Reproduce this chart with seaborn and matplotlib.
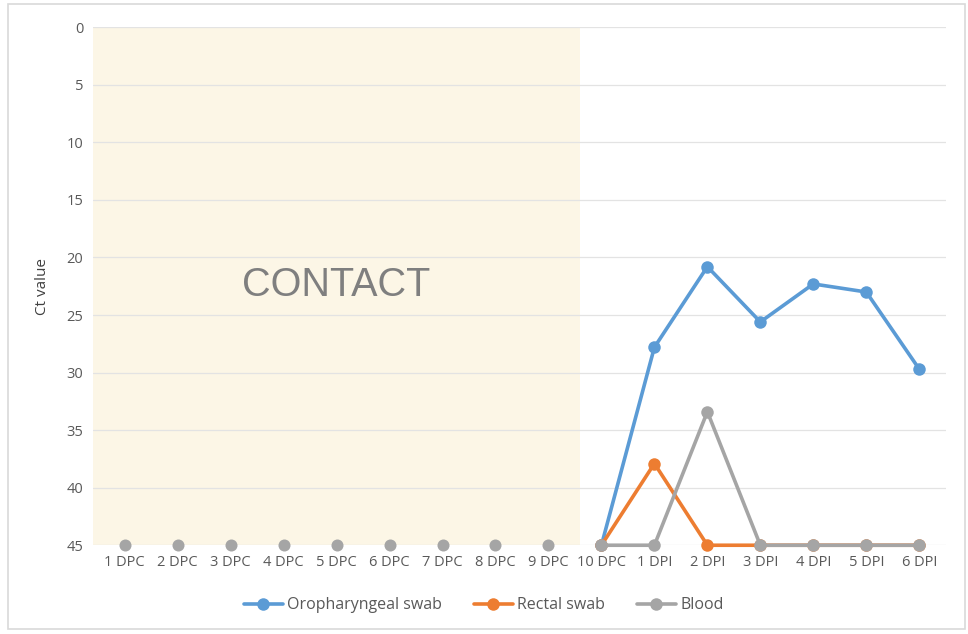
import matplotlib
matplotlib.use("Agg")
import matplotlib.pyplot as plt
from matplotlib.patches import Rectangle
from matplotlib.lines import Line2D
import seaborn as sns
import pandas as pd

# --- data ---
days = ["1 DPC", "2 DPC", "3 DPC", "4 DPC", "5 DPC", "6 DPC", "7 DPC", "8 DPC",
        "9 DPC", "10 DPC", "1 DPI", "2 DPI", "3 DPI", "4 DPI", "5 DPI", "6 DPI"]
oro_swab = [45, 27.8, 20.8, 25.6, 22.3, 23.0, 29.7]      # from 10 DPC on
rectal_swab = [45, 37.9, 45, 45, 45, 45, 45]
blood = [45, 45, 33.4, 45, 45, 45, 45]
contact_blood = [45] * 9                                 # 1-9 DPC

series_names = ["Oropharyngeal swab", "Rectal swab", "Blood"]
colors = ["#5B9BD5", "#ED7D31", "#A5A5A5"]

sns.set_theme(style="white")
plt.rcParams["font.family"] = ["Open Sans", "DejaVu Sans"]
text_col = "#595959"

fig = plt.figure(figsize=(9.68, 6.34), dpi=100)
ax = fig.add_axes([0.096, 0.140, 0.881, 0.817])

x_all = list(range(len(days)))
x_post = x_all[9:]

# contact period shading
ax.axvspan(-0.6, 8.6, color="#FCF6E6", zorder=0, lw=0)
ax.text(4.0, 22.4, "CONTACT", fontsize=28.5, color="#7F7F7F",
        family="Liberation Sans", ha="center", va="center", zorder=1)

for yv in range(0, 50, 5):
    ax.axhline(yv, color="#E3E3E3", lw=0.9, zorder=0.5)

df = pd.DataFrame({
    "x": x_post * 3,
    "ct": oro_swab + rectal_swab + blood,
    "series": [n for n in series_names for _ in x_post],
})
for i, name in enumerate(series_names):
    sub = df[df["series"] == name]
    sns.lineplot(data=sub, x="x", y="ct", ax=ax, color=colors[i], lw=2.6,
                 marker="o", markersize=9, markeredgewidth=0, zorder=3 + i,
                 clip_on=False)

sns.scatterplot(x=x_all[:9], y=contact_blood, ax=ax, color=colors[2], s=75,
                linewidth=0, zorder=6, clip_on=False)

ax.set_xlim(-0.6, 15.5)
ax.set_ylim(45, 0)
ax.set_yticks(range(0, 50, 5))
ax.set_xticks(x_all)
ax.set_xticklabels(days)
ax.tick_params(axis="both", colors=text_col, labelsize=10.5, length=0, pad=7)
ax.set_xlabel("")
ax.set_ylabel("Ct value", color="#404040", fontsize=11, labelpad=12)
for sp in ax.spines.values():
    sp.set_visible(False)

handles = [Line2D([0], [0], color=c, lw=2.6, marker="o", markersize=9,
                  markeredgewidth=0) for c in colors]
fig.legend(handles, series_names, loc="center", bbox_to_anchor=(0.5, 0.045),
           ncol=3, frameon=False, fontsize=11.5, labelcolor=text_col,
           handlelength=2.4, handletextpad=0.3, columnspacing=2.0)

# outer chart border
fig.patches.append(Rectangle((0.008, 0.008), 0.989, 0.985, transform=fig.transFigure,
                             fill=False, edgecolor="#D9D9D9", lw=1.2))

fig.savefig("out.png", dpi=100)
